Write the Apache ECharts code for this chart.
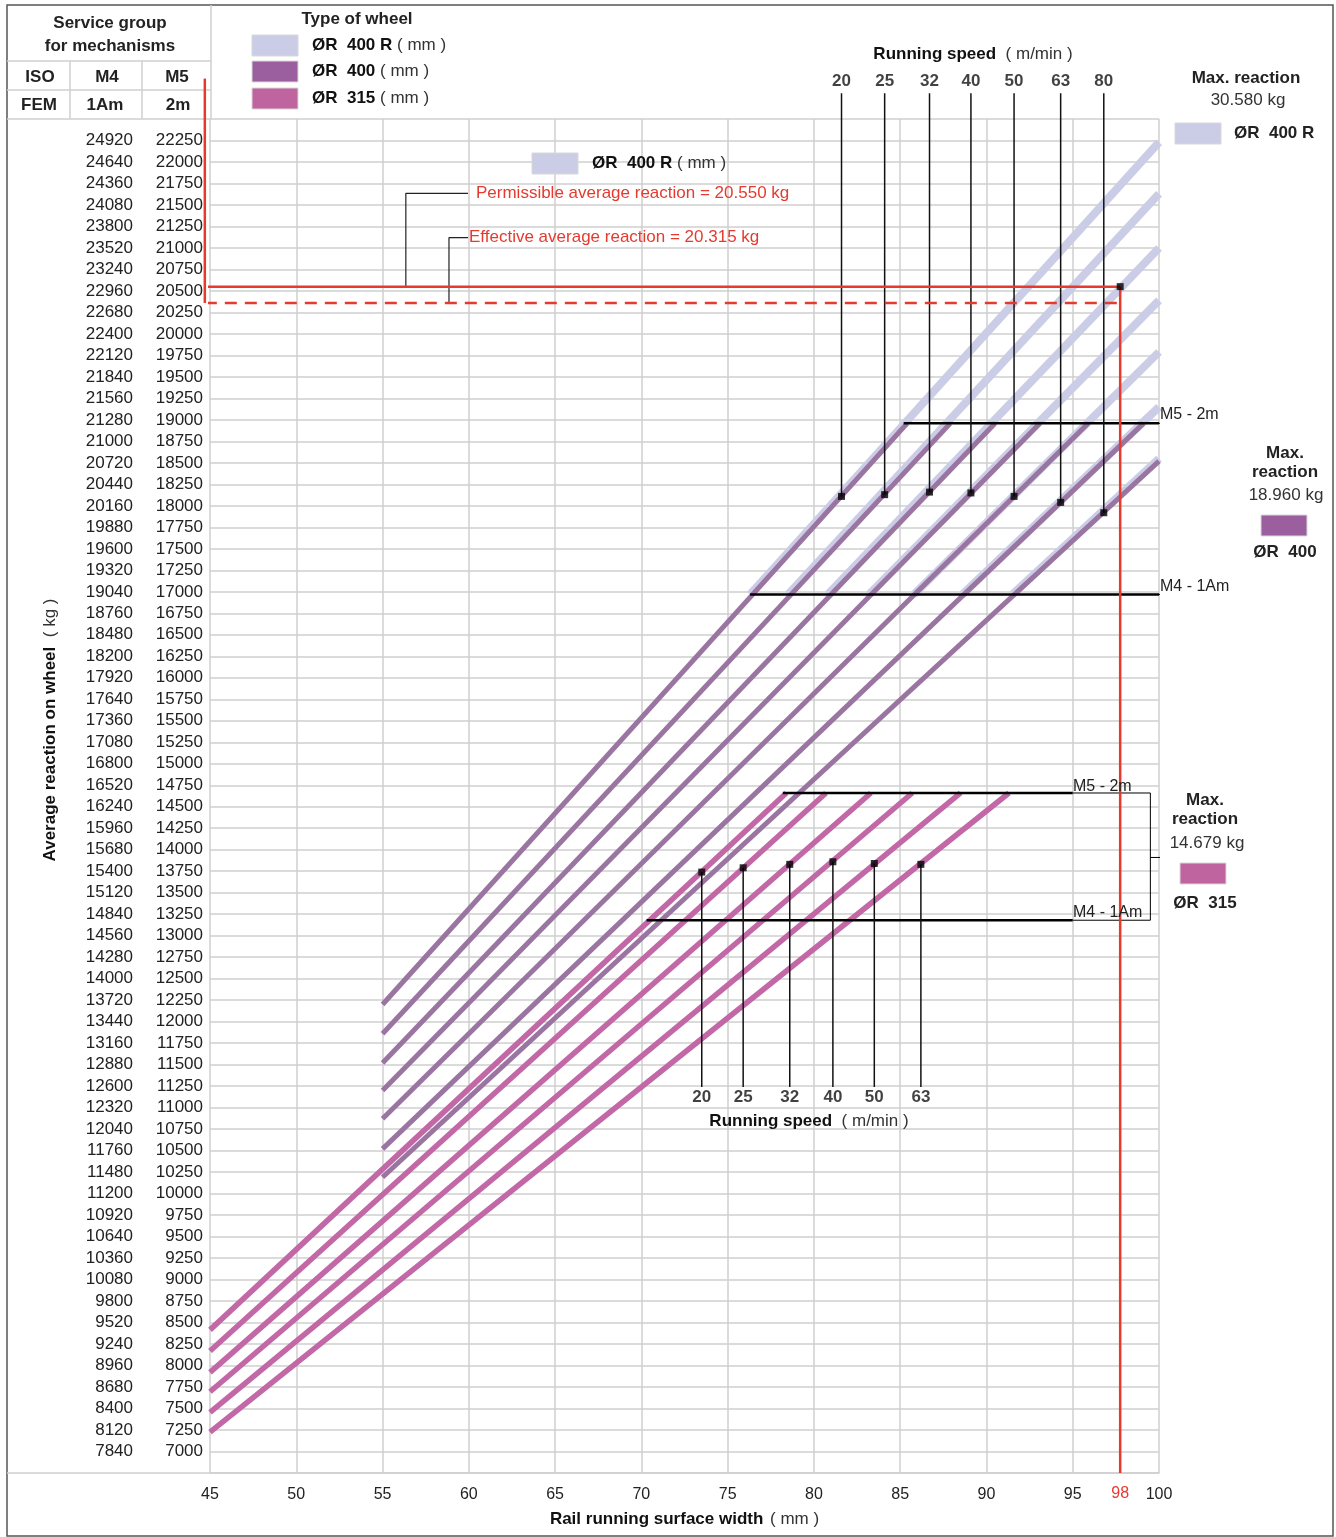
<!DOCTYPE html>
<html>
<head>
<meta charset="utf-8">
<title>Average reaction on wheel</title>
<script src="https://cdn.jsdelivr.net/npm/echarts@6/dist/echarts.min.js"></script>
<style>
  html, body { margin: 0; padding: 0; background: #fff; }
  #chart { width: 1336px; height: 1537px; }
</style>
</head>
<body>
<div id="chart"></div>
<script>
// running speeds (m/min)
var speeds400 = [20, 25, 32, 40, 50, 63, 80];
var speeds315 = [20, 25, 32, 40, 50, 63];

// ØR 400 lines : rail width (mm) and reaction (kg, M5 scale) at both ends
var r400StartB = [55, 55, 55, 55, 55, 55, 55];
var r400StartR = [12200, 11860, 11520, 11200, 10870, 10520, 10190];
var r400EndB = [85.4, 87.9, 90.5, 93.1, 95.9, 99.1, 100];
var r400EndR = [18960, 18960, 18960, 18960, 18960, 18960, 18520];

// ØR 400 R lines (drawn from the M4 limit up)
var r400rStartB = [76.3, 78.5, 80.8, 83.2, 85.8, 88.6, 91.5];
var r400rStartR = [16970, 16970, 16970, 16970, 16970, 16970, 16970];
var r400rEndB = [100, 100, 100, 100, 100, 100, 100];
var r400rEndR = [22230, 21630, 21000, 20390, 19790, 19150, 18550];

// ØR 315 lines
var r315StartB = [45, 45, 45, 45, 45, 45];
var r315StartR = [8415, 8170, 7920, 7695, 7455, 7225];
var r315EndB = [78.4, 80.7, 83.3, 85.7, 88.5, 91.3];
var r315EndR = [14660, 14660, 14660, 14660, 14660, 14660];

// speed markers on the lines
var mark400B = [81.6, 84.1, 86.7, 89.1, 91.6, 94.3, 96.8];
var mark400R = [18110, 18130, 18160, 18150, 18110, 18040, 17920];
var mark315B = [73.5, 75.9, 78.6, 81.1, 83.5, 86.2];
var mark315R = [13740, 13790, 13830, 13860, 13840, 13830];

// service group limits (M5 scale)
var lim400M5 = 18960, lim400M4 = 16970;
var lim315M5 = 14660, lim315M4 = 13180;
var lim400M5From = 85.2, lim400M4From = 76.3, lim400Bracket = 104.5, lim400Mid = 17960;
var lim315M5From = 78.2, lim315M4From = 70.3, lim315ThickTo = 95.0, lim315Bracket = 99.5, lim315Mid = 13910;

// speed leader ends
var speedTop400 = 22800, speedBottom315 = 11240;

// reading example
var permissible = 20550, effective = 20360, railWidth = 97.75, leftB = 44.7, leftTop = 22970;

// axes (M4 = 1.12 x M5)
var m5Min = 6750, m5Max = 22500, m5Step = 250;
var m4Min = 7560, m4Max = 25200, m4Step = 280;
var bMin = 45, bMax = 100, bStep = 5;

var FONT = '"Liberation Sans", Arial, sans-serif';
var C400R = '#cbcde6', C400 = '#9b75a2', C315 = '#c268a6', RED = '#e63a2e';

function seg(pts, color, width, z, extra) {
  var s = {
    type: 'line', data: pts, symbol: 'none', silent: true, z: z,
    lineStyle: {color: color, width: width}, animation: false, clip: false
  };
  if (extra) for (var k in extra) s.lineStyle[k] = extra[k];
  return s;
}

var series = [];
speeds400.forEach(function (s, i) {
  series.push(seg([[r400rStartB[i], r400rStartR[i]], [r400rEndB[i], r400rEndR[i]]], C400R, 8, 2));
});
speeds400.forEach(function (s, i) {
  series.push(seg([[r400StartB[i], r400StartR[i]], [r400EndB[i], r400EndR[i]]], C400, 5, 3));
});
speeds315.forEach(function (s, i) {
  series.push(seg([[r315StartB[i], r315StartR[i]], [r315EndB[i], r315EndR[i]]], C315, 5.5, 4));
});

// service group limits
series.push(seg([[lim400M5From, lim400M5], [bMax, lim400M5]], '#000', 2.5, 6));
series.push(seg([[lim400M4From, lim400M4], [bMax, lim400M4]], '#000', 2.5, 6));
series.push(seg([[bMax, lim400M5], [lim400Bracket, lim400M5], [lim400Bracket, lim400M4], [bMax, lim400M4]], '#000', 1, 6));
series.push(seg([[lim400Bracket, lim400Mid], [lim400Bracket + 0.6, lim400Mid]], '#000', 1, 6));
series.push(seg([[lim315M5From, lim315M5], [lim315ThickTo, lim315M5]], '#000', 2.5, 6));
series.push(seg([[lim315M4From, lim315M4], [lim315ThickTo, lim315M4]], '#000', 2.5, 6));
series.push(seg([[lim315ThickTo, lim315M5], [lim315Bracket, lim315M5], [lim315Bracket, lim315M4], [lim315ThickTo, lim315M4]], '#000', 1, 6));
series.push(seg([[lim315Bracket, lim315Mid], [lim315Bracket + 0.6, lim315Mid]], '#000', 1, 6));

// speed leaders
speeds400.forEach(function (s, i) {
  series.push(seg([[mark400B[i], speedTop400], [mark400B[i], mark400R[i]]], '#111', 1.5, 7));
});
speeds315.forEach(function (s, i) {
  series.push(seg([[mark315B[i], mark315R[i]], [mark315B[i], speedBottom315]], '#111', 1.5, 7));
});

// reading example in red
series.push(seg([[leftB, permissible], [railWidth, permissible]], RED, 2.5, 8));
series.push(seg([[leftB, effective], [railWidth, effective]], RED, 2.5, 8, {type: [12, 8]}));
series.push(seg([[railWidth, permissible], [railWidth, m5Min]], RED, 2.5, 8));
// leaders to the red notes
series.push(seg([[56.35, permissible], [56.35, 21635], [59.95, 21635]], '#222', 1.2, 7));
series.push(seg([[58.85, effective], [58.85, 21120], [59.95, 21120]], '#222', 1.2, 7));

function markPts(bs, rs) {
  return bs.map(function (b, i) { return [b, rs[i]]; });
}
series.push({
  type: 'scatter', symbol: 'rect', symbolSize: 7, z: 9, silent: true, animation: false,
  itemStyle: {color: '#000'},
  data: markPts(mark400B, mark400R).concat(markPts(mark315B, mark315R)).concat([[railWidth, permissible]])
});
var lblStyle = {show: true, fontFamily: FONT, fontSize: 17, fontWeight: 'bold', color: '#111'};
series.push({
  type: 'scatter', symbolSize: 0.1, z: 9, silent: true, animation: false, clip: false,
  itemStyle: {color: 'rgba(0,0,0,0)'},
  label: Object.assign({position: 'top', distance: 3, formatter: function (p) { return speeds400[p.dataIndex]; }}, lblStyle),
  data: mark400B.map(function (b) { return [b, speedTop400]; })
});
series.push({
  type: 'scatter', symbolSize: 0.1, z: 9, silent: true, animation: false, clip: false,
  itemStyle: {color: 'rgba(0,0,0,0)'},
  label: Object.assign({position: 'bottom', distance: 2, formatter: function (p) { return speeds315[p.dataIndex]; }}, lblStyle),
  data: mark315B.map(function (b) { return [b, speedBottom315]; })
});

var gridLine = {show: true, lineStyle: {color: '#cfcfcf', width: 1.5}};

function tickFmt(lo, hi) {
  return function (v) {
    var r = Math.round(v);
    return (r <= lo || r >= hi) ? '' : String(r);
  };
}

var option = {
  backgroundColor: '#fff',
  animation: false,
  grid: {left: 210, top: 119, width: 949, height: 1354, containLabel: false, outerBoundsMode: 'none'},
  xAxis: {
    type: 'value', min: bMin, max: bMax, interval: bStep,
    axisLine: {show: true, lineStyle: {color: '#cfcfcf', width: 1.5}},
    axisTick: {show: false},
    splitLine: gridLine,
    axisLabel: {color: '#222', fontFamily: FONT, fontSize: 16, margin: 14},
    name: '{b|Rail running surface width}  {n|( mm )}',
    nameLocation: 'middle', nameGap: 38,
    nameTextStyle: {
      rich: {
        b: {fontFamily: FONT, fontSize: 17, fontWeight: 'bold', color: '#111'},
        n: {fontFamily: FONT, fontSize: 17, color: '#333'}
      }
    }
  },
  yAxis: [{
    type: 'value', min: m5Min, max: m5Max, interval: m5Step,
    axisLine: {show: false}, axisTick: {show: false},
    splitLine: gridLine,
    axisLabel: {color: '#222', fontFamily: FONT, fontSize: 17, margin: 7, formatter: tickFmt(m5Min, m5Max)}
  }, {
    type: 'value', position: 'left', offset: 70,
    min: m4Min, max: m4Max, interval: m4Step,
    axisLine: {show: false}, axisTick: {show: false}, splitLine: {show: false},
    axisLabel: {color: '#222', fontFamily: FONT, fontSize: 17, margin: 7, formatter: tickFmt(m4Min, m4Max)}
  }],
  series: series
};

var chart = echarts.init(document.getElementById('chart'));
chart.setOption(option);

// ---- texts, table and legend boxes
var richG = {
  b: {fontFamily: FONT, fontSize: 17, fontWeight: 'bold', fill: '#111'},
  n: {fontFamily: FONT, fontSize: 17, fill: '#333'}
};
function txt(x, y, text, o) {
  o = o || {};
  return {
    type: 'text', x: x, y: y, z: 100, silent: true, rotation: o.rot || 0,
    style: {
      text: text, fontFamily: FONT, fontSize: o.size || 17, fontWeight: o.bold ? 'bold' : 'normal',
      fill: o.color || '#222', align: o.align || 'center', verticalAlign: 'middle', rich: richG
    }
  };
}
function ln(x1, y1, x2, y2, color, w, z) {
  return {type: 'line', z: z || 50, silent: true, shape: {x1: x1, y1: y1, x2: x2, y2: y2},
    style: {stroke: color || '#cfcfcf', lineWidth: w || 1.5}};
}
function box(x, y, color) {
  return {type: 'rect', z: 50, silent: true, shape: {x: x, y: y, width: 46, height: 21},
    style: {fill: color, stroke: '#d8d8d8', lineWidth: 1}};
}

var p98 = chart.convertToPixel({xAxisIndex: 0, yAxisIndex: 0}, [railWidth, m5Min]);
var pLeftTop = chart.convertToPixel({xAxisIndex: 0, yAxisIndex: 0}, [leftB, leftTop]);
var pLeftBot = chart.convertToPixel({xAxisIndex: 0, yAxisIndex: 0}, [leftB, effective]);

var g = [
  {type: 'rect', z: 40, silent: true, shape: {x: 7, y: 5, width: 1326, height: 1531},
    style: {fill: 'none', stroke: '#555', lineWidth: 1.5}},
  ln(211, 5, 211, 119), ln(7, 61, 211, 61), ln(7, 90, 211, 90), ln(7, 119, 211, 119),
  ln(70, 61, 70, 119), ln(142, 61, 142, 119), ln(7, 1473, 210, 1473),
  ln(pLeftTop[0], pLeftTop[1], pLeftBot[0], pLeftBot[1], RED, 2.5, 60),
  txt(110, 23, 'Service group', {bold: true}),
  txt(110, 46, 'for mechanisms', {bold: true}),
  txt(40, 77, 'ISO', {bold: true}), txt(107, 77, 'M4', {bold: true}), txt(177, 77, 'M5', {bold: true}),
  txt(39, 105, 'FEM', {bold: true}), txt(105, 105, '1Am', {bold: true}), txt(178, 105, '2m', {bold: true}),

  txt(357, 19, 'Type of wheel', {bold: true}),
  box(252, 35, C400R), box(252, 61, '#9b5fa0'), box(252, 88, '#c064a0'),
  txt(312, 45, '{b|ØR  400 R} {n|( mm )}', {align: 'left'}),
  txt(312, 71, '{b|ØR  400} {n|( mm )}', {align: 'left'}),
  txt(312, 98, '{b|ØR  315} {n|( mm )}', {align: 'left'}),

  box(532, 153, C400R),
  txt(592, 163, '{b|ØR  400 R} {n|( mm )}', {align: 'left'}),

  txt(973, 54, '{b|Running speed}  {n|( m/min )}'),
  txt(809, 1121, '{b|Running speed}  {n|( m/min )}'),

  txt(1246, 78, 'Max. reaction', {bold: true}),
  txt(1248, 100, '30.580 kg', {color: '#333'}),
  box(1175, 123, C400R),
  txt(1234, 133, 'ØR  400 R', {bold: true, align: 'left'}),

  txt(1285, 453, 'Max.', {bold: true}), txt(1285, 472, 'reaction', {bold: true}),
  txt(1286, 495, '18.960 kg', {color: '#333'}),
  box(1261, 515, '#9b5fa0'),
  txt(1285, 552, 'ØR  400', {bold: true}),

  txt(1205, 800, 'Max.', {bold: true}), txt(1205, 819, 'reaction', {bold: true}),
  txt(1207, 843, '14.679 kg', {color: '#333'}),
  box(1180, 863, '#c064a0'),
  txt(1205, 903, 'ØR  315', {bold: true}),

  txt(1160, 415, 'M5 - 2m', {align: 'left', size: 16}),
  txt(1160, 587, 'M4 - 1Am', {align: 'left', size: 16}),
  txt(1073, 787, 'M5 - 2m', {align: 'left', size: 16}),
  txt(1073, 913, 'M4 - 1Am', {align: 'left', size: 16}),

  txt(476, 193, 'Permissible average reaction = 20.550 kg', {align: 'left', color: RED, size: 17}),
  txt(469, 237, 'Effective average reaction = 20.315 kg', {align: 'left', color: RED, size: 17}),

  txt(50, 730, '{b|Average reaction on wheel}  {n|( kg )}', {rot: Math.PI / 2}),
  txt(p98[0], p98[1] + 21, '98', {color: RED, size: 16})
];
chart.setOption({graphic: g});
</script>
</body>
</html>
